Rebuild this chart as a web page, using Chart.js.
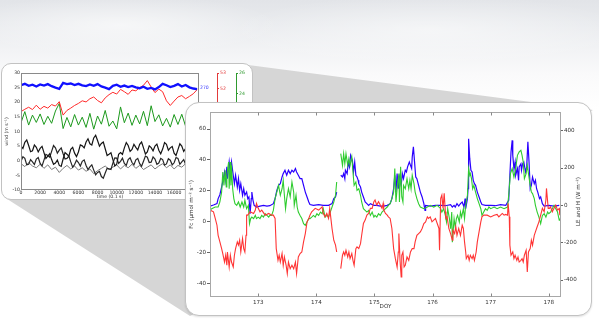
<!DOCTYPE html>
<html><head><meta charset="utf-8">
<script src="https://cdn.jsdelivr.net/npm/chart.js@4.4.1/dist/chart.umd.min.js"></script>
<style>
html,body{margin:0;padding:0;width:599px;height:335px;overflow:hidden;background:#fff;position:relative;}
#sky{position:absolute;left:0;top:0;width:599px;height:335px;
 background:radial-gradient(ellipse 160px 30px at 120px 25px,rgba(255,255,255,0.6),rgba(255,255,255,0) 100%),
 radial-gradient(ellipse 200px 35px at 430px 30px,rgba(255,255,255,0.5),rgba(255,255,255,0) 100%),
 linear-gradient(180deg,#e2e4e8 0px,#e9ebee 25px,#f2f3f5 50px,#fafafb 75px,#ffffff 110px);}
#wedge{position:absolute;left:0;top:0;width:599px;height:335px;background:#d6d6d6;
 clip-path:polygon(248px 65px,593px 110px,190px 316px,4px 197px);}
.panel{position:absolute;background:#fff;border:1.5px solid #c2c2c2;box-sizing:border-box;}
#p1{left:1px;top:63px;width:252px;height:137px;border-radius:10px;}
#p2{left:185px;top:102px;width:407px;height:214px;border-radius:14px;box-shadow:0 1px 2px rgba(0,0,0,0.12);}
canvas{position:absolute;}
#c1{left:2px;top:63px;}
#c2{left:186px;top:103px;}
</style></head>
<body>
<div id="sky"></div>
<div id="wedge"></div>
<div class="panel" id="p1"></div>
<canvas id="c1" width="250" height="137"></canvas>
<div class="panel" id="p2"></div>
<canvas id="c2" width="406" height="212"></canvas>
<script>
// ---------- small panel: high-frequency wind record ----------
const windTime = [0,400,800,1200,1600,2000,2400,2800,3200,3600,4000,4400,4800,5200,5600,6000,6400,6800,7200,7600,8000,8400,8800,9200,9600,10000,10400,10800,11200,11600,12000,12400,12800,13200,13600,14000,14400,14800,15200,15600,16000,16400,16800,17200,17600,18000,18400];
const windTimeFine = [0,200,400,600,800,1000,1200,1400,1600,1800,2000,2200,2400,2600,2800,3000,3200,3400,3600,3800,4000,4200,4400,4600,4800,5000,5200,5400,5600,5800,6000,6200,6400,6600,6800,7000,7200,7400,7600,7800,8000,8200,8400,8600,8800,9000,9200,9400,9600,9800,10000,10200,10400,10600,10800,11000,11200,11400,11600,11800,12000,12200,12400,12600,12800,13000,13200,13400,13600,13800,14000,14200,14400,14600,14800,15000,15200,15400,15600,15800,16000,16200,16400,16600,16800,17000,17200,17400,17600,17800,18000,18200,18400];
const windBlue = [25.8,26.3,25.6,26.0,25.4,26.1,25.7,26.2,25.5,25.0,24.6,26.6,26.2,26.4,25.9,26.3,25.8,25.5,26.1,25.6,26.2,25.4,25.0,24.5,25.6,26.0,25.3,25.7,25.2,25.6,25.1,24.8,25.3,24.6,24.9,24.4,25.2,26.3,25.8,25.2,25.6,26.2,25.4,25.9,25.1,24.7,24.5];
const windRed = [16.8,17.6,18.3,17.5,19.0,17.6,18.6,18.0,19.2,18.7,20.2,15.6,17.2,18.0,18.9,19.6,20.5,20.1,21.2,21.8,20.6,19.8,21.5,22.6,23.4,22.8,24.4,23.6,22.7,24.2,23.9,25.0,25.8,27.4,25.2,23.3,24.5,23.6,20.5,18.9,20.4,21.8,22.3,21.2,22.0,22.9,24.3];
const windGreen = [13.0,16.8,12.2,15.6,13.1,16.0,12.4,15.2,12.8,17.0,19.6,11.0,14.8,11.6,15.8,12.2,14.9,11.4,16.2,10.8,15.3,12.5,17.2,11.8,13.6,10.9,18.4,13.0,16.3,12.1,15.6,12.6,16.9,12.0,18.8,13.4,15.7,11.9,14.5,11.5,15.8,12.4,15.9,11.8,16.0,12.5,14.6];
const windU = [5.0,4.2,6.3,7.1,5.2,3.1,3.4,5.4,4.6,3.0,4.2,4.9,2.8,0.8,1.6,2.4,0.4,-1.2,-0.8,0.2,-1.6,-1.9,0.6,2.8,2.2,1.6,3.9,4.6,2.6,1.4,3.0,5.4,5.1,4.4,6.4,7.5,5.8,5.4,7.8,8.7,6.9,5.0,5.9,6.4,4.1,1.8,2.2,2.7,0.4,-1.8,-1.2,2.2,2.8,2.2,4.4,6.2,5.2,3.2,3.9,5.6,4.6,3.7,5.6,6.4,4.4,2.3,3.0,5.1,4.5,3.4,5.0,5.7,3.6,2.4,4.0,6.2,5.6,3.6,4.4,4.9,2.6,1.8,3.8,5.8,5.0,3.2,4.2,6.3,5.6,4.6,6.4,8.3,7.4];
const windV = [-0.2,1.4,0.8,-1.4,-1.2,0.4,-0.4,-1.3,0.6,1.1,-0.9,-1.8,0.2,2.2,1.8,1.2,3.2,5.2,4.4,2.6,3.6,4.4,2.4,0.6,0.8,1.6,-0.4,-2.2,-1.3,0.2,-0.6,-1.8,-0.2,0.3,-1.6,-3.0,-2.1,-1.4,-3.2,-4.8,-4.0,-3.6,-5.4,-6.0,-4.2,-2.6,-2.8,-3.0,-0.8,1.0,0.9,-0.9,-0.2,0.9,-0.9,-1.6,0.4,1.0,-0.6,-1.4,0.3,0.8,-1.0,-1.9,-0.2,1.6,1.2,-0.6,-0.5,1.3,0.6,-1.2,-0.8,0.8,0.4,-1.5,-1.1,0.7,0.2,-1.4,-0.7,1.1,0.8,-1.2,-0.4,0.4,-1.2,-1.7,0.1,0.3,-1.6,-3.0,-2.4];
const windW = [-1.0,-2.0,-0.6,-1.8,-2.4,-1.2,-2.6,-1.4,-3.0,-2.2,-4.0,-2.6,-1.6,-2.8,-1.8,-3.2,-2.4,-3.6,-2.8,-4.4,-3.4,-2.6,-1.8,-3.0,-2.2,-1.4,-2.8,-1.6,-2.4,-1.2,-2.6,-1.6,-3.0,-2.2,-1.4,-2.8,-1.8,-1.0,-2.4,-1.4,-2.8,-1.6,-2.2,-1.0,-2.0,-1.2,-1.8];
const windTicksX = [0,2000,4000,6000,8000,10000,12000,14000,16000,18000];
const windTicksY = [-10,-5,0,5,10,15,20,25,30];
const blueAxisTicks = [270];
const redAxisTicks = [46,47,48,49,50,51,52,53];
const greenAxisTicks = [16,18,20,22,24,26];

// ---------- large panel: fluxes vs DOY ----------
const fcTime = [172.17,172.23,172.26,172.29,172.31,172.34,172.37,172.39,172.42,172.44,172.46,172.47,172.50,172.52,172.54,172.57,172.59,172.61,172.64,172.66,172.68,172.70,172.73,172.75,172.77,172.79,172.80,172.82,172.86,172.92,172.95,172.97,173.00,173.03,173.06,173.12,173.18,173.23,173.26,173.29,173.31,173.34,173.36,173.38,173.41,173.43,173.45,173.48,173.50,173.52,173.55,173.58,173.61,173.64,173.66,173.69,173.72,173.75,173.78,173.81,173.84,173.87,173.89,173.92,173.95,173.98,174.04,174.10,174.12,174.15,174.18,174.21,
174.23,174.25,174.27,174.30,174.33,174.35,174.38,174.42,174.45,174.47,174.49,174.51,174.54,174.56,174.58,174.61,174.63,174.65,174.68,174.70,174.73,174.76,174.78,174.81,174.84,174.87,174.90,174.93,174.96,174.99,175.01,175.04,175.07,175.10,175.13,175.15,175.16,175.19,175.22,175.24,175.27,175.30,175.33,175.36,175.39,175.41,175.42,175.44,175.46,175.47,175.49,175.51,175.53,175.56,175.59,175.62,175.65,175.68,175.70,175.73,175.76,175.79,175.82,175.85,175.88,175.91,175.93,175.96,175.99,176.02,176.05,176.08,176.11,176.12,176.14,176.16,176.18,176.20,176.22,
176.23,176.25,176.28,176.31,176.34,176.35,176.38,176.40,176.42,176.45,176.48,176.51,176.53,176.55,176.57,176.58,176.61,176.63,176.65,176.68,176.70,176.72,176.75,176.77,176.80,176.83,176.85,176.88,176.94,177.00,177.06,177.11,177.14,177.17,177.20,177.23,177.26,177.29,177.30,177.32,177.33,177.35,177.38,177.40,177.42,177.45,177.47,177.49,177.52,177.54,177.56,177.58,177.61,177.63,177.65,177.68,177.70,177.72,177.75,177.77,177.80,177.83,177.86,177.89,177.92,177.95,177.96,177.99,178.01,178.03,178.06,178.09,178.12,178.15,178.18,178.19];
const fc = [7.6,6.5,2.2,-2.2,-8.7,-13.0,-17.3,-20.5,-26.0,-21.6,-28.1,-19.5,-29.2,-21.6,-26.0,-29.2,-21.6,-17.3,-13.0,-15.1,-11.9,-19.5,-10.8,-17.3,-19.5,-8.7,4.3,4.3,6.5,5.4,7.6,11.9,8.7,6.5,7.6,4.3,5.4,4.3,4.3,2.2,-17.3,-24.9,-21.6,-26.0,-20.5,-28.1,-22.7,-28.1,-33.5,-26.0,-30.3,-28.1,-30.3,-26.0,-33.5,-22.7,-20.5,-19.5,-13.0,-7.6,0,2.2,4.3,6.5,7.6,8.7,7.6,9.7,5.4,3.2,5.4,2.2,
8.7,2.2,-4.3,-11.9,-15.1,-19.5,null,-30.3,-21.6,-19.5,-21.6,-18.4,-22.7,-19.5,-23.8,-20.5,-24.9,-28.1,-17.3,-16.2,-17.3,-14.1,-8.7,-1.1,1.1,4.3,5.4,8.7,8.7,13.0,14.1,10.8,13.0,10.8,8.7,11.9,7.6,5.4,4.3,3.2,2.2,-4.3,-17.3,-23.8,-29.2,-19.5,-7.6,-24.9,-35.7,-21.6,-19.5,-29.2,-28.1,-22.7,-24.9,-19.5,-17.3,-17.3,-13.0,-8.7,-7.6,-6.5,-4.3,-1.1,0,3.2,2.2,3.2,0,1.1,2.2,-1.1,-4.3,-18.4,15.1,17.3,8.7,18.4,6.5,
2.2,3.2,-4.3,-7.6,-11.9,-5.4,-7.6,-3.2,-8.7,-4.3,-8.7,-2.2,-4.3,-13.0,-19.5,-23.8,-21.6,-24.9,-21.6,-23.8,-21.6,-24.9,-19.5,-13.0,-6.5,0,3.2,4.3,4.3,3.2,4.3,4.8,3.2,4.3,5.4,4.3,4.8,4.3,11.9,3.2,-15.1,-21.6,-19.5,-23.8,-21.6,-24.9,-22.7,-26.0,-24.9,-23.8,-26.0,-21.6,-18.4,-32.4,-19.5,-17.3,-11.9,-15.1,-8.7,-6.5,-3.2,0,4.3,8.7,6.5,14.1,21.6,8.7,8.7,9.7,6.5,8.7,10.8,7.6,8.7,4.3];

const leTime = [172.17,172.23,172.29,172.31,172.34,172.37,172.40,172.42,172.44,172.46,172.47,172.50,172.52,172.54,172.57,172.59,172.61,172.64,172.66,172.68,172.70,172.73,172.75,172.77,172.80,172.82,172.84,172.86,172.88,172.89,172.91,172.93,
172.97,173.03,173.09,173.15,173.20,173.26,173.29,173.32,173.35,173.38,173.41,173.43,173.46,173.49,173.52,173.55,173.58,173.61,173.64,173.66,173.69,173.72,173.75,173.78,173.81,173.84,173.87,173.89,173.95,174.04,174.12,174.21,174.27,174.30,174.33,174.35,174.38,
174.42,174.45,174.47,174.49,174.50,174.53,174.55,174.57,174.59,174.62,174.64,174.66,174.68,174.70,174.72,174.73,174.76,174.78,174.81,174.84,174.87,174.90,174.93,174.99,175.04,175.10,175.16,175.22,175.27,175.30,175.33,175.35,175.37,175.39,175.41,175.43,175.46,175.48,175.50,175.53,175.55,175.57,175.60,175.62,175.64,175.65,175.67,175.69,175.71,175.73,175.76,175.79,175.82,175.85,175.87,175.88,175.96,176.05,176.14,
176.22,176.31,176.34,176.37,176.39,176.42,176.45,176.48,176.51,176.54,176.56,176.57,176.60,176.61,176.62,176.64,176.66,176.68,176.70,176.72,176.74,176.77,176.80,176.83,176.85,176.91,177.00,177.08,177.17,177.26,177.31,177.33,177.35,177.37,177.38,177.40,177.42,177.43,177.46,177.48,177.49,177.52,177.53,177.55,177.57,177.60,177.62,177.64,177.66,177.68,177.70,177.72,177.75,177.77,177.79,177.81,177.84,177.86,177.89,177.92,178.00,178.09,178.18];
const le = [-4,2,9,36,57,98,143,179,134,206,143,232,170,232,161,116,161,98,143,80,116,54,89,54,71,36,45,-45,36,71,27,0,
-9,-4,0,-4,-2,9,36,80,107,116,152,170,188,161,188,170,188,179,197,179,161,143,143,107,71,45,18,4,0,4,0,0,9,36,45,71,null,
161,152,170,143,188,170,232,206,268,241,179,232,161,152,134,116,98,71,45,18,9,0,9,0,0,-4,-4,0,9,36,89,161,71,170,89,152,107,170,143,188,179,206,232,214,197,259,313,232,152,143,107,71,45,9,-27,0,-4,0,0,
-2,4,-9,0,-9,9,-4,9,18,-9,36,-18,36,89,357,250,188,179,134,116,107,71,45,18,4,0,0,-2,4,0,27,161,286,348,268,197,232,161,197,134,206,223,188,223,232,179,206,340,232,89,107,152,116,134,89,71,36,45,9,-4,0,-4,0];

const hTime = [172.17,172.20,172.26,172.31,172.34,172.37,172.39,172.41,172.43,172.45,172.46,172.49,172.50,172.52,172.53,172.54,172.56,172.58,172.60,172.63,172.66,172.69,172.72,172.75,172.77,172.80,172.83,172.85,172.87,172.89,172.92,172.95,172.97,173.00,173.03,173.06,173.09,173.12,173.15,173.18,173.20,173.23,173.26,173.29,173.32,173.35,173.38,173.41,173.43,173.45,173.47,173.49,173.52,173.55,173.58,173.61,173.62,173.65,173.67,173.69,173.72,173.75,173.78,173.81,173.84,173.87,173.89,173.92,173.95,173.98,174.01,174.04,174.07,174.10,174.12,174.15,174.18,174.21,
174.24,174.27,174.30,174.33,174.35,174.38,174.42,174.45,174.47,174.49,174.51,174.54,174.56,174.58,174.61,174.63,174.65,174.68,174.70,174.73,174.76,174.78,174.81,174.84,174.87,174.90,174.93,174.96,174.99,175.01,175.04,175.07,175.10,175.13,175.16,175.19,175.22,175.24,175.27,175.30,175.33,175.35,175.37,175.39,175.42,175.43,175.45,175.47,175.49,175.50,175.53,175.56,175.59,175.61,175.63,175.65,175.68,175.70,175.73,175.76,175.79,175.85,175.91,175.96,176.02,176.08,176.14,
176.16,176.19,176.22,176.24,176.26,176.29,176.31,176.33,176.34,176.37,176.39,176.41,176.43,176.46,176.48,176.50,176.53,176.55,176.57,176.60,176.62,176.64,176.65,176.67,176.69,176.71,176.74,176.77,176.80,176.83,176.85,176.88,176.91,176.94,176.97,177.00,177.06,177.11,177.17,177.23,177.29,177.31,177.34,177.37,177.40,177.43,177.46,177.49,177.52,177.54,177.56,177.58,177.61,177.63,177.65,177.68,177.70,177.72,177.75,177.77,177.80,177.83,177.86,177.89,177.92,177.95,177.98,178.00,178.03,178.06,178.09,178.12,178.15,178.18,178.19];
const h = [-27,-18,-9,-9,18,71,179,107,188,98,161,232,89,232,107,214,89,36,9,0,18,-9,18,-9,27,-18,0,-98,-71,-63,-71,-54,-71,-63,-71,-54,-63,-45,-54,-63,-54,-54,-27,36,71,107,54,89,134,54,-18,36,89,45,125,71,0,54,-9,-36,-54,-71,-98,-107,-89,-71,-71,-63,-54,-63,-45,-54,-36,-45,-18,-63,-54,-63,
-36,-9,18,54,125,null,277,214,277,223,277,214,250,214,259,179,107,125,80,89,54,18,-18,-27,-36,-27,-54,-36,-63,-54,-63,-45,-54,-36,-27,-18,-9,0,9,36,71,197,18,89,170,18,206,45,18,107,89,143,89,134,89,161,116,71,36,9,-9,-18,-9,0,-9,0,-18,
-36,-18,-54,-89,-18,-71,-125,-36,-197,-71,-116,-71,-54,-89,-36,-63,-18,-71,0,54,197,161,170,143,89,107,71,36,9,-18,-54,-36,-18,-27,-9,-18,-9,-18,-9,-18,-9,54,170,197,152,197,268,286,295,268,232,143,170,214,170,107,71,63,36,0,-36,-63,-98,-54,-45,-63,-36,-45,-36,-18,0,-18,-36,-80,-71];

const doyTicks = [173,174,175,176,177,178];
const fcTicks = [-40,-20,0,20,40,60];
const fluxTicks = [-400,-200,0,200,400];

function pairs(xs, ys){ return xs.map((x,i)=>({x:x, y:ys[i]})); }
function tickList(vals){ return vals.map(v=>({value:v})); }

const FONT = 'DejaVu Sans';

const framePlugin = {
  id:'frame',
  afterDatasetsDraw(chart, args, o){
    const {ctx, chartArea:a, scales} = chart;
    ctx.save();
    ctx.strokeStyle = o.color; ctx.lineWidth = 1;
    const L = Math.round(a.left)+0.5, T = Math.round(a.top)+0.5, R = Math.round(a.right)-0.5, B = Math.round(a.bottom)-0.5;
    ctx.strokeRect(L, T, R-L, B-T);
    if (o.inTicks){
      ctx.strokeStyle = o.tickColor;
      ctx.beginPath();
      scales.x.ticks.forEach(t=>{
        const x = Math.round(scales.x.getPixelForValue(t.value))+0.5;
        ctx.moveTo(x,B); ctx.lineTo(x,B-o.inTicks);
        ctx.moveTo(x,T); ctx.lineTo(x,T+o.inTicks);
      });
      ctx.stroke();
    }
    if (o.rightTitle){
      ctx.fillStyle = o.titleColor;
      ctx.font = o.titleSize + 'px ' + FONT;
      ctx.textAlign = 'center'; ctx.textBaseline = 'middle';
      ctx.translate(o.rightTitleX, (a.top+a.bottom)/2 - 3);
      ctx.rotate(-Math.PI/2);
      ctx.fillText(o.rightTitle, 0, 0);
    }
    ctx.restore();
  }
};

// ---- small chart ----
const sf = {family:FONT, size:4.6};
new Chart(document.getElementById('c1'), {
  type:'line',
  data:{datasets:[
    {data:pairs(windTime, windBlue), borderColor:'#1010ff', borderWidth:2.3},
    {data:pairs(windTime, windRed), borderColor:'#ff2a2a', borderWidth:1},
    {data:pairs(windTime, windGreen), borderColor:'#1c991c', borderWidth:1},
    {data:pairs(windTimeFine, windU), borderColor:'#151515', borderWidth:1.2},
    {data:pairs(windTimeFine, windV), borderColor:'#262626', borderWidth:1.2},
    {data:pairs(windTime, windW), borderColor:'#7a7a7a', borderWidth:1}
  ]},
  options:{
    responsive:false, animation:false, devicePixelRatio:1,
    layout:{padding:{top:10,left:0,right:0,bottom:0}},
    elements:{point:{radius:0}, line:{tension:0}},
    plugins:{legend:{display:false}, tooltip:{enabled:false},
      frame:{color:'#8a8a8a'}},
    scales:{
      x:{type:'linear', min:0, max:18600,
        afterBuildTicks:s=>{ s.ticks = tickList(windTicksX); },
        ticks:{font:sf, color:'#333', padding:0, maxRotation:0, autoSkip:false, callback:v=>String(v)},
        grid:{drawOnChartArea:false, drawTicks:false}, border:{display:false},
        title:{display:true, text:'time (0.1 s)', font:sf, color:'#333', padding:{top:0,bottom:0.6}},
        afterFit:s=>{ s.height = 10; }},
      y:{type:'linear', position:'left', min:-10, max:30,
        afterBuildTicks:s=>{ s.ticks = tickList(windTicksY); },
        ticks:{font:sf, color:'#333', padding:1},
        grid:{drawOnChartArea:false, drawTicks:false}, border:{display:false},
        title:{display:true, text:'wind (m s⁻¹)', font:sf, color:'#333', padding:{top:2.3,bottom:0}},
        afterFit:s=>{ s.width = 19; }},
      yBlue:{type:'linear', position:'right', weight:0, min:0, max:310,
        afterBuildTicks:s=>{ s.ticks = tickList(blueAxisTicks); },
        ticks:{font:sf, color:'#3a3aff', padding:1},
        grid:{drawOnChartArea:false, drawTicks:false}, border:{display:false},
        afterFit:s=>{ s.width = 18; }},
      yRed:{type:'linear', position:'right', weight:1, min:45.67, max:53,
        afterBuildTicks:s=>{ s.ticks = tickList(redAxisTicks); },
        ticks:{font:sf, color:'#e23a3a', padding:1},
        grid:{drawOnChartArea:false, tickLength:2, color:'#e23a3a'}, border:{display:true, color:'#e23a3a', width:1},
        afterFit:s=>{ s.width = 19; }},
      yGreen:{type:'linear', position:'right', weight:2, min:14.8, max:26,
        afterBuildTicks:s=>{ s.ticks = tickList(greenAxisTicks); },
        ticks:{font:sf, color:'#2f9a2f', padding:1},
        grid:{drawOnChartArea:false, tickLength:2, color:'#2f9a2f'}, border:{display:true, color:'#2f9a2f', width:1},
        afterFit:s=>{ s.width = 16; }}
    }
  },
  plugins:[framePlugin]
});

// ---- large chart ----
const lf = {family:FONT, size:5.6};
new Chart(document.getElementById('c2'), {
  type:'line',
  data:{datasets:[
    {label:'Fc', data:pairs(fcTime, fc), yAxisID:'y', borderColor:'#ff3434', borderWidth:1.1},
    {label:'H', data:pairs(hTime, h), yAxisID:'y2', borderColor:'#2fcc2f', borderWidth:1.1},
    {label:'LE', data:pairs(leTime, le), yAxisID:'y2', borderColor:'#2a00ff', borderWidth:1.2}
  ]},
  options:{
    responsive:false, animation:false, devicePixelRatio:1,
    layout:{padding:{top:9,left:0,right:0,bottom:0}},
    elements:{point:{radius:0}, line:{tension:0}},
    plugins:{legend:{display:false}, tooltip:{enabled:false},
      frame:{color:'#a8a8a8', inTicks:3, tickColor:'#888', rightTitle:'LE and H (W m⁻²)', rightTitleX:393, titleColor:'#333', titleSize:5.6}},
    scales:{
      x:{type:'linear', min:172.17, max:178.21,
        afterBuildTicks:s=>{ s.ticks = tickList(doyTicks); },
        ticks:{font:lf, color:'#333', padding:2, maxRotation:0, autoSkip:false, callback:v=>String(v)},
        grid:{drawOnChartArea:false, drawTicks:false}, border:{display:false},
        title:{display:true, text:'DOY', font:lf, color:'#333', padding:{top:0,bottom:5}},
        afterFit:s=>{ s.height = 18; }},
      y:{type:'linear', position:'left', min:-48.6, max:71,
        afterBuildTicks:s=>{ s.ticks = tickList(fcTicks); },
        ticks:{font:lf, color:'#333', padding:1},
        grid:{drawOnChartArea:false, tickLength:3, color:'#666'}, border:{display:false},
        title:{display:true, text:'Fc (μmol m⁻² s⁻¹)', font:lf, color:'#333', padding:{top:2.4,bottom:0}},
        afterFit:s=>{ s.width = 24; }},
      y2:{type:'linear', position:'right', min:-491, max:500,
        afterBuildTicks:s=>{ s.ticks = tickList(fluxTicks); },
        ticks:{font:lf, color:'#333', padding:1},
        grid:{drawOnChartArea:false, tickLength:2, color:'#666'}, border:{display:false},
        afterFit:s=>{ s.width = 31; }}
    }
  },
  plugins:[framePlugin]
});
</script>
</body></html>
